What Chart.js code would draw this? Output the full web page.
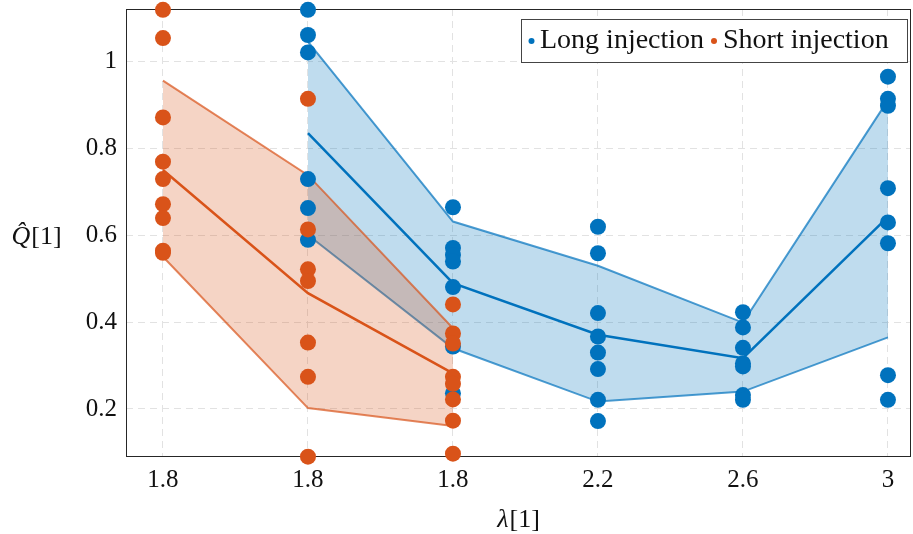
<!DOCTYPE html>
<html>
<head>
<meta charset="utf-8">
<script src="https://cdn.jsdelivr.net/npm/chart.js@4/dist/chart.umd.min.js"></script>
<style>
html, body { margin: 0; padding: 0; background: #fff; }
</style>
</head>
<body>
<canvas id="chart" width="913" height="534"></canvas>
<script>
// tick labels of the x axis (one per column)
const tickLabels = ['1.8', '1.8', '1.8', '2.2', '2.6', '3'];
const yTicks = [0.2, 0.4, 0.6, 0.8, 1];

// samples per column, null = no run for that column
const shortSamples = [
    [1.12, 1.055, 0.872, 0.77, 0.73, 0.672, 0.64, 0.565, 0.56],
    [0.915, 0.614, 0.522, 0.495, 0.353, 0.274, 0.09],
    [0.441, 0.374, 0.351, 0.274, 0.258, 0.222, 0.173, 0.097],
    null, null, null
];
const longSamples = [
    null,
    [1.12, 1.062, 1.022, 0.73, 0.663, 0.59],
    [0.665, 0.571, 0.555, 0.54, 0.481, 0.344, 0.236],
    [0.62, 0.559, 0.421, 0.367, 0.33, 0.292, 0.221, 0.172],
    [0.423, 0.388, 0.341, 0.305, 0.298, 0.232, 0.221],
    [0.966, 0.915, 0.899, 0.709, 0.63, 0.582, 0.278, 0.221]
];

const shortMean  = [0.751, 0.467, 0.282, null, null, null];
const shortUpper = [0.957, 0.739, 0.386, null, null, null];
const shortLower = [0.551, 0.202, 0.161, null, null, null];

const longMean  = [null, 0.836, 0.49, 0.371, 0.317, 0.643];
const longUpper = [null, 1.047, 0.632, 0.53, 0.399, 0.912];
const longLower = [null, 0.601, 0.34, 0.217, 0.24, 0.365];

const BLUE = 'rgb(0,114,189)';
const ORANGE = 'rgb(217,83,25)';
const FONT = '"Liberation Serif", "DejaVu Serif", serif';

function toPoints(arr) {
    const pts = [];
    arr.forEach((v, i) => { if (v !== null) pts.push({x: i, y: v}) });
    return pts;
}
function samplePoints(cols) {
    const pts = [];
    cols.forEach((col, i) => { if (col) col.forEach(v => pts.push({x: i, y: v})) });
    return pts;
}
function scatterSet(label, cols, color) {
    return {
        label: label,
        data: samplePoints(cols),
        showLine: false,
        pointRadius: 8,
        pointBackgroundColor: color,
        pointBorderWidth: 0,
        clip: false
    };
}
function lineSet(label, arr, color, width, fill) {
    return {
        label: label,
        data: toPoints(arr),
        borderColor: color,
        borderWidth: width,
        pointRadius: 0,
        fill: fill || false,
        backgroundColor: fill ? fill.color : 'transparent',
        tension: 0
    };
}

// draws the box round the plot area (under the markers)
const frame = {
    id: 'frame',
    beforeDatasetsDraw(chart) {
        const a = chart.chartArea, ctx = chart.ctx;
        ctx.save();
        ctx.strokeStyle = '#262626';
        ctx.lineWidth = 1;
        ctx.strokeRect(Math.round(a.left) + 0.5, Math.round(a.top) + 0.5,
            Math.round(a.right - a.left), Math.round(a.bottom - a.top));
        ctx.restore();
    }
};

// legend box and axis titles
const extras = {
    id: 'extras',
    afterDraw(chart) {
        const ctx = chart.ctx;
        ctx.save();
        // legend
        ctx.fillStyle = '#fff';
        ctx.fillRect(521, 19.5, 386.5, 43);
        ctx.strokeStyle = '#444';
        ctx.lineWidth = 1;
        ctx.strokeRect(521.5, 19.5, 386, 43);
        ctx.font = '28px ' + FONT;
        ctx.textBaseline = 'alphabetic';
        ctx.fillStyle = BLUE;
        ctx.beginPath(); ctx.arc(531.5, 41, 3, 0, Math.PI * 2); ctx.fill();
        ctx.fillStyle = ORANGE;
        ctx.beginPath(); ctx.arc(714, 41, 3, 0, Math.PI * 2); ctx.fill();
        ctx.fillStyle = '#111';
        ctx.fillText('Long injection', 540, 48);
        ctx.fillText('Short injection', 723, 48);

        // x title
        const cx = (chart.chartArea.left + chart.chartArea.right) / 2;
        ctx.font = 'italic 26px ' + FONT;
        const w1 = ctx.measureText('λ').width;
        ctx.font = '26px ' + FONT;
        const w2 = ctx.measureText('[1]').width;
        let x0 = cx - (w1 + w2) / 2;
        ctx.font = 'italic 26px ' + FONT;
        ctx.fillText('λ', x0, 527);
        ctx.font = '26px ' + FONT;
        ctx.fillText('[1]', x0 + w1 + 1, 527);

        // y title (horizontal)
        ctx.font = 'italic 26px ' + FONT;
        const q1 = ctx.measureText('Q\u0302').width;
        ctx.font = '26px ' + FONT;
        const q2 = ctx.measureText('[1]').width;
        x0 = 36 - (q1 + q2) / 2;
        ctx.font = 'italic 26px ' + FONT;
        ctx.fillText('Q\u0302', x0, 244);
        ctx.font = '26px ' + FONT;
        ctx.fillText('[1]', x0 + q1 + 1, 244);
        ctx.restore();
    }
};

const ctx = document.getElementById('chart').getContext('2d');
const myChart = new Chart(ctx, {
    type: 'line',
    data: {
        datasets: [
            scatterSet('Short injection', shortSamples, ORANGE),
            scatterSet('Long injection', longSamples, BLUE),
            lineSet('Short mean', shortMean, ORANGE, 2.5),
            lineSet('Long mean', longMean, BLUE, 2.5),
            lineSet('Short upper', shortUpper, 'rgba(217,83,25,0.7)', 2, {target: '+1', color: 'rgba(217,83,25,0.25)'}),
            lineSet('Short lower', shortLower, 'rgba(217,83,25,0.7)', 2),
            lineSet('Long upper', longUpper, 'rgba(0,114,189,0.7)', 2, {target: '+1', color: 'rgba(0,114,189,0.25)'}),
            lineSet('Long lower', longLower, 'rgba(0,114,189,0.7)', 2)
        ]
    },
    options: {
        responsive: false,
        animation: false,
        events: [],
        layout: { autoPadding: false, padding: { top: 9, right: 3, left: 0, bottom: 0 } },
        plugins: {
            legend: { display: false },
            tooltip: { enabled: false }
        },
        scales: {
            x: {
                type: 'linear',
                min: -0.255,
                max: 5.152,
                afterBuildTicks: (scale) => { scale.ticks = tickLabels.map((_, i) => ({value: i})) },
                afterFit: (scale) => {
                    scale.height = 78;
                    scale.paddingLeft = 0;
                    scale.paddingRight = 0;
                },
                ticks: {
                    callback: (v) => tickLabels[v],
                    font: { family: FONT, size: 25 },
                    color: '#111',
                    padding: 9,
                    maxRotation: 0
                },
                grid: { color: '#e2e2e2', lineWidth: 1, drawTicks: false },
                border: { display: false, dash: [7, 5] }
            },
            y: {
                min: 0.0916,
                max: 1.122,
                afterBuildTicks: (scale) => { scale.ticks = yTicks.map(v => ({value: v})) },
                afterFit: (scale) => {
                    scale.width = 126;
                    scale.paddingTop = 0;
                    scale.paddingBottom = 0;
                },
                ticks: {
                    callback: (v) => String(v),
                    font: { family: FONT, size: 25 },
                    color: '#111',
                    padding: 9
                },
                grid: { color: '#e2e2e2', lineWidth: 1, drawTicks: false },
                border: { display: false, dash: [7, 5] }
            }
        }
    },
    plugins: [frame, extras]
});
</script>
</body>
</html>
